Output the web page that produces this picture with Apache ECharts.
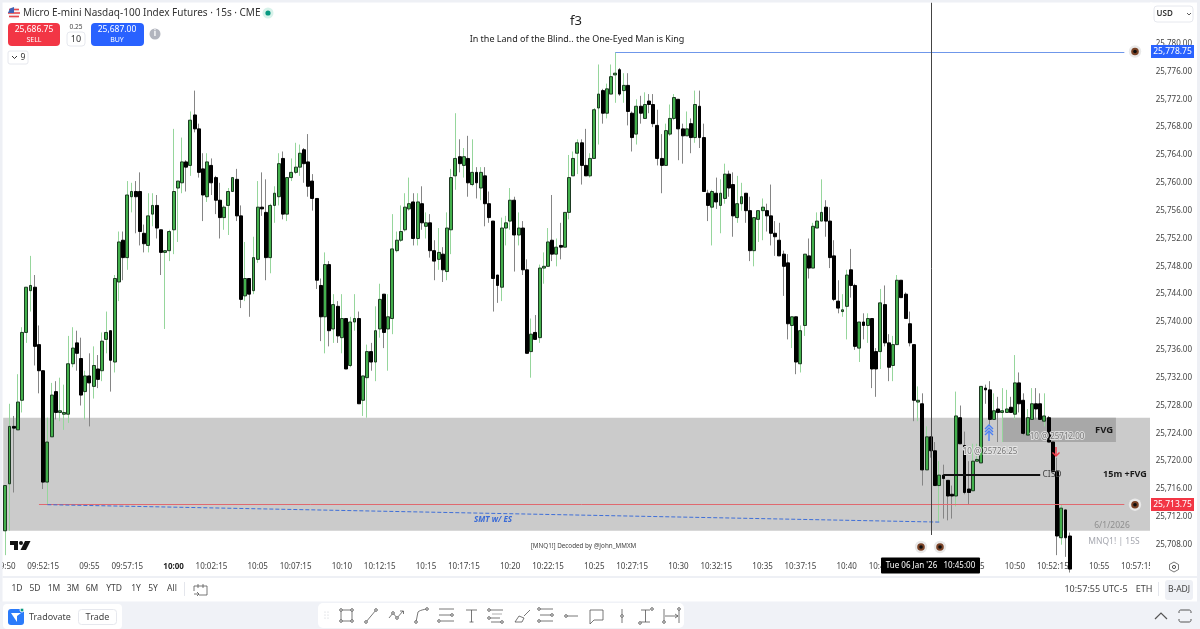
<!DOCTYPE html>
<html><head><meta charset="utf-8">
<style>html,body{margin:0;padding:0;background:#fff}#c{width:1200px;height:629px}</style>
<script src="https://cdn.jsdelivr.net/npm/echarts@6/dist/echarts.min.js"></script>
</head><body><div id="c"></div>
<script>
const opens=[25710,25716.75,25725,25724.5,25728.75,25738.5,25744.5,25745,25736.75,25733,
25717,25723.5,25730,25727,25726.75,25726.75,25734,25737,25734.75,25730,
25732.25,25730.75,25733.25,25733,25737.5,25738.75,25734.25,25745.75,25751.75,25749.25,
25758,25758.75,25758.75,25752.75,25751,25755.5,25756.75,25753.25,25750,25750.25,
25753.25,25759.25,25760,25763,25762.5,25769.75,25767.75,25762,25758,25762.5,
25760.75,25757.5,25755,25756.75,25758.75,25760.5,25755.25,25743.75,25746.25,25744.5,
25749,25756.5,25755.75,25749.25,25756.75,25758,25763.5,25755.5,25760.75,25761.5,
25762.25,25764.75,25763,25760.25,25757.75,25745.25,25740.75,25748.25,25739,25742.25,
25737.75,25740.5,25733.75,25740,25740.5,25728.75,25732,25735.75,25734.25,25739,
25744,25739,25740.5,25750.25,25751.75,25753.25,25756.25,25757.25,25752,25757,
25753.75,25754.25,25750.25,25749,25749.75,25747.25,25753.25,25761,25763.75,25762.5,
25763.5,25759.75,25761.5,25759.25,25761,25757,25754.5,25746.75,25745,25753.5,
25754.5,25757.5,25752.5,25753.5,25747.5,25735.75,25738.5,25737.75,25747.75,25748,
25751.75,25749.75,25751,25750.75,25755.75,25761,25764.25,25765.75,25762.5,25761,
25763.5,25770.75,25773.25,25770,25772.75,25775.5,25776.25,25773.25,25774,25770,
25767,25771,25769.25,25771.75,25771.25,25768.25,25763.5,25762.5,25767,25769.25,
25772,25767.75,25766.75,25768.5,25766.5,25771,25766.5,25758.5,25756.5,25758.5,
25756.75,25757.75,25761.25,25759.75,25755,25757,25758.5,25756,25750.25,25754.75,
25756,25756,25755.25,25752.75,25751.75,25749.75,25748.5,25739.5,25740.75,25734,
25739.5,25749.5,25747.75,25753.5,25754.5,25756.5,25754.5,25749.5,25743,25741.5,
25742.25,25747.5,25745.25,25736.25,25740,25739.5,25740.5,25735.75,25735.75,25742.5,
25737,25733.75,25736.75,25746,25744,25739.75,25736.75,25728.5,25728.25,25718.75,
25723.5,25721.5,25716.5,25718,25717.25,25715.25,25715,25726.25,25722.25,25716,
25715.75,25720,25719.75,25730.5,25730.25,25726,25727.5,25727,25727,25727.75,
25726.75,25731.25,25728.75,25723.75,25726,25728.25,25728.25,25725.75,25726.25,25722.75,
25718.5,25709,25713,25709.25];
const closes=[25716.5,25725,25724.75,25728.5,25738.5,25745,25745.25,25736.5,25733,25717,
25722.75,25729.5,25727,25727.25,25727,25734,25736.25,25735.5,25729.5,25732.25,
25731.25,25733.75,25731.75,25737.25,25738.5,25734.5,25746.25,25751.5,25749.25,25758.25,
25758.75,25758,25753,25751.25,25755.25,25756.75,25753.5,25750,25750.25,25753,
25758.75,25760.25,25763,25762.25,25769,25767.75,25761.5,25758.25,25763,25760,
25757.5,25755,25756.5,25758.75,25760.75,25755.25,25743.25,25746.25,25744,25749.25,
25756.5,25756.25,25749.25,25756.75,25758.5,25762.75,25755.5,25760.75,25761.5,25762.25,
25764.25,25762.75,25759.5,25757.75,25746,25740.75,25748.25,25738.75,25742.5,25738,
25740.5,25733.25,25740,25740.5,25728.25,25732.25,25735.75,25734.25,25738.75,25743.25,
25738.5,25740.75,25750.5,25751.75,25753,25756.5,25757,25752,25757.25,25754.25,
25754.25,25750.25,25748.75,25750,25747.5,25753.5,25760.75,25763.5,25762.75,25763.75,
25760,25761.5,25760,25761.5,25757,25755,25746.25,25745.25,25753.5,25754.25,
25757.5,25752.5,25753.5,25747.5,25735.5,25738.25,25737.5,25747.75,25748,25751.5,
25749.75,25750.75,25750.75,25755.75,25760.75,25763.5,25765.75,25762.5,25761,25763.5,
25770.5,25772.75,25770,25773.5,25775.25,25775.75,25772.75,25774,25770.25,25766.5,
25771,25770,25771.25,25771.25,25768.5,25763.5,25762.5,25767.5,25769.25,25772.25,
25767.75,25766.75,25767.75,25766.5,25771.25,25766.5,25758.75,25756.75,25758.75,25757.25,
25758.5,25761.25,25759.25,25755.25,25757,25758,25756,25750.25,25755,25756,
25756.5,25755.25,25752.75,25752.25,25749.5,25748,25739.75,25740.75,25734.25,25738.75,
25749.75,25747.75,25753.75,25754.5,25755.75,25754.5,25749.25,25743.25,25742,25741.75,
25746.75,25745.25,25736.5,25740,25739.5,25740.5,25733.25,25733.25,25742.75,25737,
25733.5,25736.75,25746,25743.5,25740.5,25737,25728.75,25728.75,25718.75,25723.5,
25721.5,25716.5,25718,25717.5,25715,25715,25726.5,25722.5,25715.5,25715.5,
25720,25720.25,25730.75,25730.25,25726,25727.25,25727,25727.25,25727.5,25727,
25731.25,25728.25,25724,25726.25,25728.25,25727.5,25726,25726.5,25722.75,25718.5,
25709.25,25713.25,25709,25704.5];
const highs=[25716.5,25728.25,25726.5,25732.5,25739.25,25745,25749.5,25746.75,25739.5,25733,
25726.25,25731.25,25731.5,25732,25731,25738,25739.25,25738.75,25737.75,25733,
25735.5,25736.5,25735.25,25738.5,25741.5,25738.75,25746.75,25753,25753,25760.25,
25760,25760.25,25761.5,25754,25758.5,25758.5,25758.25,25753.25,25750.25,25753.25,
25767.75,25760.25,25766.5,25763.25,25770.25,25773.25,25768.5,25764.25,25764.25,25763.5,
25761,25760,25756.75,25759.25,25760.75,25762,25756.75,25751.5,25746.25,25752.25,
25760.25,25761.5,25760.5,25757,25759.5,25764.25,25764.5,25760.75,25763.5,25765.75,
25765.5,25765,25767,25761.25,25757.75,25746.25,25750,25748.75,25744,25743,
25744,25740.5,25740.75,25744,25741.5,25732.25,25736.75,25737,25742.25,25745.5,
25744,25744,25755.5,25753,25756.75,25758.5,25760.75,25758.5,25758.5,25759.5,
25755.75,25755.5,25751.75,25753.5,25750.75,25755.75,25762,25770,25766.25,25765,
25766.75,25766.25,25762.25,25762.25,25762.25,25758.75,25754.5,25746.75,25755,25755.25,
25759.25,25758,25755.75,25754.5,25749,25740.5,25741,25748.25,25750,25753.5,
25758.25,25752,25754.25,25755.75,25764,25764.5,25766.25,25766.25,25767.75,25764.25,
25770.75,25777,25773.5,25774.25,25777,25778.75,25776.5,25775.75,25775.75,25770.25,
25772,25772.5,25773,25772.75,25772.75,25770.5,25767,25768.5,25771.25,25772.75,
25772,25768.5,25770.25,25769.25,25773.25,25773.25,25768.5,25759,25759,25760.75,
25760.5,25762.75,25761.75,25761.5,25761,25760,25758.5,25758,25755,25756,
25757.75,25757,25759.75,25754.5,25754.25,25750.25,25749.75,25740.75,25740.75,25739.5,
25749.75,25752,25754.25,25755.75,25760.5,25757.5,25756.5,25751.75,25746,25744,
25747.5,25750.5,25745.5,25740,25741.25,25741.25,25740.5,25736.25,25744.75,25745.25,
25738.25,25738,25746.75,25746,25744.25,25741.5,25736.75,25730.75,25729.75,25725,
25723.5,25722.75,25720,25719.5,25717.25,25716.5,25730,25728,25724.25,25720,
25722.5,25722.5,25730.75,25731,25731.5,25729.75,25729.25,25730.5,25730.25,25729.25,
25735.25,25732.75,25729.75,25727.5,25730.5,25730.5,25729.75,25729.75,25726.5,25722.75,
25720.5,25713.75,25713,25709.75];
const lows=[25706.5,25710,25715.5,25724.5,25727,25737,25741.5,25733.75,25729.75,25716,
25713.75,25723.5,25726,25725.75,25724.5,25725.5,25733.5,25733,25728,25726,
25725,25729,25730.5,25731.5,25735.5,25730,25732.75,25743,25746,25747.5,
25755.75,25752.75,25751,25750,25750,25753.75,25752,25746.75,25739,25748.75,
25749.75,25751.5,25758.5,25758.75,25761,25767.25,25760.75,25754.5,25757.25,25758.25,
25755.5,25752,25753.25,25752.5,25758.75,25754.5,25742,25743,25740.75,25744,
25748.5,25755.25,25746,25747,25754.25,25756.75,25754.75,25754.5,25760.25,25761.25,
25761,25760,25758,25756,25744.75,25737.25,25735.5,25736.5,25737,25737,
25735.5,25733.25,25733.5,25738.75,25728.25,25726.5,25726.25,25733,25731.5,25737.75,
25736.25,25733,25738.25,25750,25751.5,25753,25756,25751,25751,25753.25,
25752,25749.25,25746,25747.5,25745.75,25746,25749.75,25759,25761.5,25760.75,
25758,25759.5,25757.75,25757.5,25753.75,25754.25,25741.5,25742.75,25743,25751,
25753.25,25747.25,25751,25746.75,25735.5,25732,25737.5,25737,25745.5,25748,
25748.75,25748,25749,25750.75,25754.75,25761,25761.25,25759.75,25761,25760.75,
25763.5,25765.5,25768.5,25769.25,25772.75,25771.5,25772.5,25771.5,25768.25,25764.5,
25765.5,25768.5,25769.25,25770,25768,25762.5,25758.5,25762.5,25766.75,25769,
25763.25,25762.75,25766.75,25764.25,25765.75,25765,25758.75,25754.5,25751,25756.25,
25752.75,25757,25758,25752.25,25754.25,25756,25754.25,25748.75,25748,25751.5,
25751.75,25753,25751,25749.5,25749.5,25743.75,25737.5,25736.25,25732.5,25732.75,
25738,25746.25,25747.75,25753.5,25754.5,25752.25,25747.75,25743,25741.25,25740.75,
25737.5,25743.5,25736,25734.25,25737.5,25737,25730.5,25729.25,25733.25,25736.5,
25731.5,25731.5,25736.75,25743.5,25740.5,25736.5,25725.75,25725.75,25716.5,25718.75,
25720.5,25716.5,25711.25,25711.75,25711.5,25711.75,25713.5,25722.5,25715.25,25713.75,
25715.75,25720,25719.75,25728.25,25725.25,25726,25722.75,25722.75,25727,25727,
25726,25727,25723.75,25723.75,25726,25726,25726,25725,25722.75,25718.5,
25706.5,25708,25706.25,25704];
const priceTicks=[25708,25712,25716,25720,25724,25728,25732,25736,25740,25744,25748,25752,25756,25760,25764,25768,25772,25776,25780];
const timeTickIndexes=[0,9,20,29,40,49,60,69,80,89,100,109,120,129,140,149,160,169,180,189,200,209,220,229,240,249,260,269];
const zoneLevels=[25726.25,25710];
const fvgLevels=[25726.25,25722.75];
const highLevel=25778.75, lowLevel=25713.75, cisdLevel=25718, smtEnd=25711.25;
const categories=[];
for(let i=0;i<273;i++){const s=9*3600+50*60+i*15,h=Math.floor(s/3600),m=Math.floor(s/60)%60,se=s%60,p=n=>String(n).padStart(2,'0');
 categories.push(p(h)+':'+p(m)+(se?':'+p(se):''));}
const FF='"Noto Sans",sans-serif';
const wickRows=opens.map((o,i)=>[o,closes[i],lows[i],highs[i]]);
const bodyRows=opens.map((o,i)=>[o,closes[i],Math.min(o,closes[i]),Math.max(o,closes[i])]);
const g=[];
const Z=100;
const R=(x,y,w,h,fill,r,stroke)=>g.push({type:'rect',z:Z,silent:true,shape:{x,y,width:w,height:h,r:r||0},style:{fill:fill||'none',stroke:stroke||null,lineWidth:1}});
const C=(x,y,r,fill,stroke)=>g.push({type:'circle',z:Z,silent:true,shape:{cx:x,cy:y,r},style:{fill:fill||'none',stroke:stroke||null,lineWidth:1}});
const T=(text,x,y,size,fill,align,weight,fs,stroke)=>g.push({type:'text',z:Z+1,silent:true,style:{text,x,y,fill:fill||'#333',align:align||'center',verticalAlign:'middle',stroke:stroke||null,lineWidth:stroke?2:0,font:(fs?fs+' ':'')+(weight||'400')+' '+size+'px '+FF}});
// Small outline icons: an SVG-like string is split into polylines / polygons for the graphic component.
const P=(d,stroke,fill,lw)=>{
 const subs=[];let cur=null,x=0,y=0;
 const re=/([MLHVQZ])([^MLHVQZ]*)/g;let m;
 while((m=re.exec(d))){const n=m[2].trim().split(/[\s,]+/).filter(Boolean).map(Number);
  if(m[1]==='M'){cur={pts:[[n[0],n[1]]],closed:false};subs.push(cur);x=n[0];y=n[1];}
  else if(m[1]==='L'){x=n[0];y=n[1];cur.pts.push([x,y]);}
  else if(m[1]==='H'){x=n[0];cur.pts.push([x,y]);}
  else if(m[1]==='V'){y=n[0];cur.pts.push([x,y]);}
  else if(m[1]==='Q'){const x0=x,y0=y;for(let k=1;k<=5;k++){const t=k/5,a=(1-t)*(1-t),b=2*t*(1-t),c=t*t;cur.pts.push([a*x0+b*n[0]+c*n[2],a*y0+b*n[1]+c*n[3]]);}x=n[2];y=n[3];}
  else if(m[1]==='Z'){cur.closed=true;}
 }
 subs.forEach(s=>g.push({type:(s.closed||fill)?'polygon':'polyline',z:Z,silent:true,shape:{points:s.pts},style:{fill:fill||'none',stroke:stroke||null,lineWidth:lw||.8}}));
};
const eye=(x,y)=>{C(x,y,6.2,'#e9e9e9');C(x,y,3.8,'#7a4327');C(x,y,1.8,'#0d0d0d');};
const dot=(x,y)=>C(x,y,1.3,'#fff','#666');
const IC='#555';
// frame
R(0,0,1200,2.5,'#eef0f5');R(0,0,2.5,602,'#eef0f5');R(1197,0,3,629,'#eef0f5');
R(1150,2.5,2.5,556,'#fff');
// header
C(14,13,6,'#f4f4f4');P('M9,9.5H19M8,13H20M9,16.5H19','#e5484d',null,1.6);P('M14,7L10,8.5L8,13H14Z',null,'#3f63b5');
T('Micro E-mini Nasdaq-100 Index Futures · 15s · CME',23,13,10,'#333','left');
C(268,13,5.5,'#d7f2ea');C(268,13,2.6,'#089981');
R(8,23,52,23,'#f23645',4);T('25,686.75',34,30,8.5,'#fff');T('SELL',34,40,7,'#fff');
T('0.25',76,27,6.5,'#444');R(67,32,18,14,'#fff',3,'#e6e8ee');T('10',76,39,9,'#333');
R(91,23,53,23,'#2962ff',4);T('25,687.00',117,30,8.5,'#fff');T('BUY',117,40,7,'#fff');
C(155,34,5.5,'#b2b5be');T('i',155,34,8,'#fff','center','700');
R(8,51,20,13,'#fff',2,'#e6e8ee');P('M12,56L14.5,58.5L17,56','#333',null,1);T('9',23,57.5,8.5,'#333');
T('f3',576,21,13,'#222');
T('In the Land of the Blind.. the One-Eyed Man is King',577,39,9,'#222');
// annotations
eye(1135,51.5);eye(1135,504.7);
R(1151,45,43,13,'#2962ff');T('25,778.75',1172.5,51.5,8.5,'#fff');
R(1151,498,43,13,'#f23645');T('25,713.75',1172.5,504.7,8.5,'#fff');
T('FVG',1104,430,9.5,'#1a1a1a','center','700');
T('15m +FVG',1125,474,9,'#1a1a1a','center','700');
T('CISD',1052,475,8.5,'#444');
T('SMT w/ ES',493,520,8,'#3a6bd6','center','700','italic');
T('10 @ 25726.25',990,452,8,'#777','center','400',null,'#e4e4e4');
T('10 @ 25712.00',1057,437,8,'#777','center','400',null,'#dcdcdc');
T('6/1/2026',1112,526,8.5,'#8f8f8f');
T('MNQ1! | 15S',1114,542,8.5,'#a6a8b0');
P('M985,429L989,425L993,429M985,432L989,428L993,432M985,435L989,431L993,435M989,431V441','#4a80f5',null,1.4);
P('M1056,447V456M1052.5,452.5L1056,456L1059.5,452.5','#f23645',null,1.4);
T('[MNQ1!] Decoded by @John_MMXM',583.5,546,6.3,'#444');
P('M10,541H18V550H14V545H10Z',null,'#111');C(21,543,2,'#111');P('M25,541H30.5L26,550H20.5Z',null,'#111');
eye(921,547);eye(940,547);
// time tag
R(881,557.5,99,16,'#000',1);T("Tue 06 Jan '26   10:45:00",930.5,566,8,'#fff');
// price-axis corner
R(1150,558,47,20,'#fff');
P('M1174,562L1178.5,564.5V569.5L1174,572L1169.5,569.5V564.5Z',IC);C(1174,567,1.6,null,IC);
R(1154,6,39,16,'#fff',3,'#e6e8ee');T('USD',1156.5,14,8,'#333','left','600');P('M1187,13L1189,15L1191,13','#333');
// bottom row
R(2.5,576,1194.5,2,'#eef0f5');
[['1D',17],['5D',35],['1M',54],['3M',73],['6M',92],['YTD',114],['1Y',136],['5Y',153],['All',172]].forEach(a=>T(a[0],a[1],589,8.5,'#444'));
R(184,582,1,14,'#e4e6ec');
P('M194,586H207V595H199M194,586V591M198,584V588M203,584V588M194,594H199M197,592L199,594L197,596',IC);
T('10:57:55 UTC-5',1096,589,9,'#444');T('ETH',1144,589,9,'#444');
R(1158,582,1,14,'#e4e6ec');R(1165,580,28,20,'#eef0f5',3);T('B-ADJ',1179,590,8.5,'#444');
// lower strip
R(0,601.5,1200,27.5,'#f0f2f7');
R(3,604,119,25,'#fff',4);
R(8,609,16,16,'#2b7bfa',3);P('M11,613H21L17,616V622L15,619L13,616Z',null,'#fff');C(22,610,2,'#089981','#fff');
T('Tradovate',29,617,9,'#444','left');
R(78.5,609.5,38,15,'#fff',3,'#e6e8ee');T('Trade',97.5,617,9,'#444');
R(318,603,366,25,'#fff',5);
[[325,612],[328,612],[325,615],[328,615],[325,618],[328,618]].forEach(a=>C(a[0],a[1],.6,'#c8cad0'));
P('M341,610H352V621H341Z',IC);[[341,610],[352,610],[341,621],[352,621]].forEach(a=>dot(a[0],a[1]));
P('M366,622L376,610',IC);dot(366,622);dot(376,610);
P('M389,618L393,613L397,618L403,611M400,611H403.5V614',IC);dot(393,613);dot(397,618);
P('M416,622L418,612Q420,610 427,609',IC);dot(416,622);dot(427,609);
P('M439,609H454M439,615H452M441,621H454',IC);dot(452,615);dot(439,621);
P('M466,610H477M471.5,610V622M469.5,622H473.5',IC);
P('M490,610H503M490,618H500M491,622H503',IC);P('M492,614H502','#999');dot(489,610);dot(489,618);dot(502,622);
P('M515,622L519,616L524,618L522,622ZM524,616L530,610',IC);
P('M540,609H553M540,615H553M540,621H553',IC);dot(539,609);dot(552,615);dot(539,621);
P('M566,616H578',IC);dot(566,616);
P('M590,610H603V620H594L590,624Z',IC);
P('M622,609V623',IC);dot(622,616);
P('M641,610H650M645.5,610V622M641,622H650',IC);dot(652,609);dot(640,623);
P('M664,609V623M679,609V623M665,616H678M675,614L678,616L675,618',IC);dot(664,622);dot(679,609);
P('M1155,619L1161,613L1167,619',IC,null,1.2);
P('M1179,613V612Q1179,610 1181,610H1189Q1191,610 1191,612V613M1179,619V620Q1179,622 1181,622H1189Q1191,622 1191,620V619',IC,null,1);

const chart=echarts.init(document.getElementById('c'),null,{renderer:'canvas'});
const tickSet=new Set(timeTickIndexes);
chart.setOption({
 animation:false,
 backgroundColor:'#fff',
 grid:{left:3.2,right:48.3,top:2,bottom:71,outerBoundsMode:'none'},
 xAxis:{type:'category',data:categories,boundaryGap:true,
  axisLine:{show:false},axisTick:{show:false},splitLine:{show:false},
  axisLabel:{interval:(i)=>tickSet.has(i),margin:5,hideOverlap:false,showMinLabel:true,showMaxLabel:true,color:'#444',fontSize:8,fontFamily:FF,
   formatter:(v)=>v==='10:00'?'{b|10:00}':v,rich:{b:{fontWeight:700,fontSize:8,fontFamily:FF,color:'#222'}}}},
 yAxis:{type:'value',position:'right',min:25706.09,max:25785.98,scale:true,
  axisLine:{show:false},axisTick:{show:false},splitLine:{show:false},
  axisLabel:{customValues:priceTicks,margin:4,color:'#444',fontSize:8,fontFamily:FF,
   formatter:(v)=>v.toLocaleString('en-US',{minimumFractionDigits:2,maximumFractionDigits:2})}},
 series:[
  {type:'candlestick',name:'Wicks',data:wickRows,barWidth:1,silent:true,z:2,
   itemStyle:{color:'#96d69c',color0:'#858585',borderColor:'#96d69c',borderColor0:'#858585',borderWidth:1},
   markArea:{silent:true,z:1,data:[
    [{yAxis:zoneLevels[0],itemStyle:{color:'#cbcbcb'}},{yAxis:zoneLevels[1]}],
    [{xAxis:237,yAxis:fvgLevels[0],itemStyle:{color:'#a8a8a8'}},{xAxis:264,yAxis:fvgLevels[1]}]
   ]}},
  {type:'candlestick',name:'MNQ1!',data:bodyRows,barWidth:3.4,silent:true,z:3,
   itemStyle:{color:'#43b04c',color0:'#000',borderColor:'#1d3a22',borderColor0:'#000',borderWidth:1},
   markLine:{silent:true,symbol:'none',z:6,label:{show:false},animation:false,data:[
    [{coord:[145,highLevel],lineStyle:{color:'#6f97ea',width:1,type:'solid'}},{coord:[266,highLevel],lineStyle:{color:'#6f97ea',width:1,type:'solid'}}],
    [{coord:[8,lowLevel],lineStyle:{color:'#e0696f',width:1,type:'solid'}},{coord:[266,lowLevel]}],
    [{coord:[10,lowLevel],lineStyle:{color:'#3f6fd8',width:1,type:'dashed'}},{coord:[222,smtEnd]}],
    [{coord:[223,cisdLevel],lineStyle:{color:'#111',width:2,type:'solid'}},{coord:[246,cisdLevel]}],
    [{coord:[220,25785.9],lineStyle:{color:'#444',width:1,type:'solid'}},{coord:[220,25709.4]}]
   ]}}
 ],
 graphic:{elements:g}
});
</script></body></html>
